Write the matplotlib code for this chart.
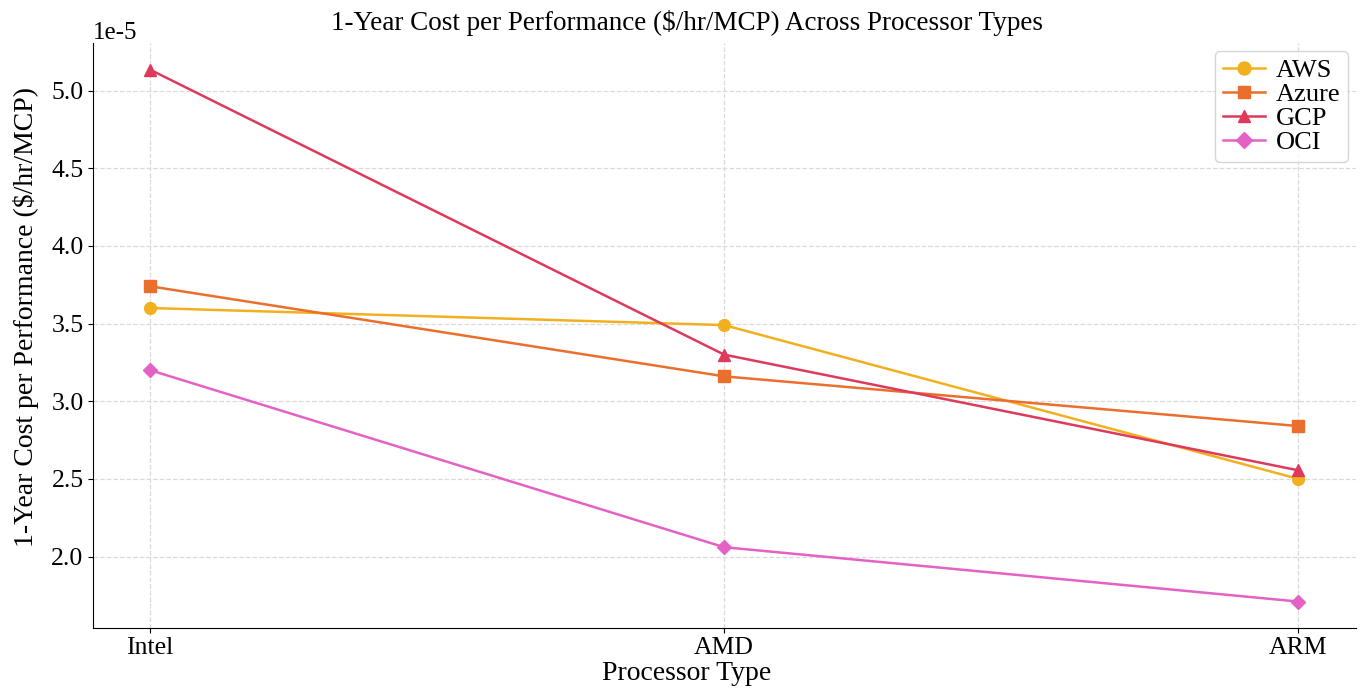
import numpy as np
import matplotlib.pyplot as plt

plt.rcParams['font.family'] = ['Liberation Serif', 'DejaVu Serif']
plt.rcParams['axes.unicode_minus'] = False

processors = ['Intel', 'AMD', 'ARM']
aws = [3.60e-5, 3.49e-5, 2.50e-5]
azure = [3.74e-5, 3.16e-5, 2.84e-5]
gcp = [5.135e-5, 3.30e-5, 2.555e-5]
oci = [3.20e-5, 2.06e-5, 1.71e-5]

x = np.arange(len(processors))

fig = plt.figure(figsize=(13.61, 6.88), dpi=100)
ax = fig.add_axes([0.068, 0.087, 0.928, 0.8505])

ax.plot(x, aws, marker='o', color='#F2B01E', lw=1.8, ms=8.5, label='AWS')
ax.plot(x, azure, marker='s', color='#EA6F2C', lw=1.8, ms=8, label='Azure')
ax.plot(x, gcp, marker='^', color='#DD3A5C', lw=1.8, ms=8.5, label='GCP')
ax.plot(x, oci, marker='D', color='#E462C6', lw=1.8, ms=7, label='OCI')

ax.set_xticks(x)
ax.set_xticklabels(processors)
ax.tick_params(labelsize=18.5, pad=3)
ax.yaxis.get_offset_text().set_fontsize(18)
ax.grid(True, linestyle='--', color='#dadada', lw=0.9)
ax.spines['top'].set_visible(False)
ax.spines['right'].set_visible(False)

# title and labels sit a bit left of the axes centre in the reference
ax.set_xlabel('Processor Type', fontsize=20, labelpad=1, x=0.4707)
ax.set_ylabel('1-Year Cost per Performance ($/hr/MCP)', fontsize=20, labelpad=9, y=0.532)
ax.set_title('1-Year Cost per Performance ($/hr/MCP) Across Processor Types', fontsize=19.5, pad=9, x=0.4707)
ax.legend(loc='upper right', bbox_to_anchor=(1348 / 1361, 1 - 51 / 688), bbox_transform=fig.transFigure,
          borderaxespad=0, fontsize=19, handlelength=1.6, handletextpad=0.4, borderpad=0.3,
          labelspacing=0.02, markerscale=1.1)

fig.savefig('out.png', dpi=100)
